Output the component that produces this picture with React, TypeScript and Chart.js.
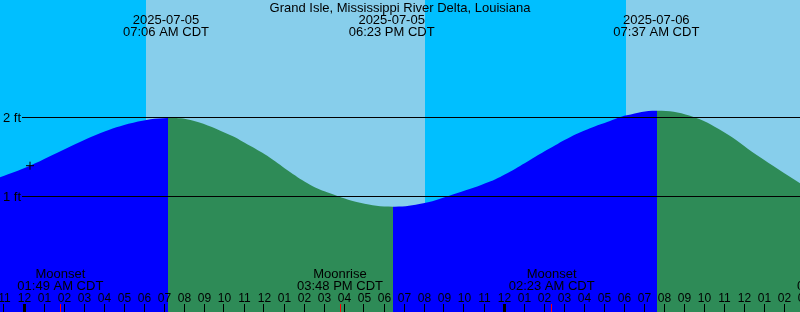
import React, { useEffect, useRef } from "react";
import { Chart, registerables } from "chart.js";

Chart.register(...registerables);

// ---- data (hours are measured from midnight 2025-07-05 CDT) ----
const TITLE = "Grand Isle, Mississippi River Delta, Louisiana";

const tideHours = [
  -1.2, 0.3, 2.135, 3.8, 5.465, 7.2, 8.465, 10.3, 11.3, 12.3, 13.3, 14.3, 15.3,
  16.8, 18.45, 19.965, 21.635, 23.3, 24.3, 25.3, 26.3, 27.3, 28.3, 29.3,
  30.135, 31.65, 33.3, 34.965, 36.635, 38.8,
];
const tideFeet = [
  1.243, 1.39, 1.609, 1.798, 1.932, 1.99, 1.957, 1.777, 1.64, 1.49, 1.31, 1.15,
  1.042, 0.923, 0.873, 0.915, 1.042, 1.19, 1.314, 1.462, 1.609, 1.748, 1.861,
  1.953, 2.025, 2.083, 2.02, 1.818, 1.525, 1.168,
];

const extremeHours = [7.1, 18.383, 31.617];
const extremeDates = ["2025-07-05", "2025-07-05", "2025-07-06"];
const extremeTimes = ["07:06 AM CDT", "06:23 PM CDT", "07:37 AM CDT"];

const moonHours = [1.817, 15.8, 26.383, 40.8];
const moonNames = ["Moonset", "Moonrise", "Moonset", "Moonrise"];
const moonTimes = ["01:49 AM CDT", "03:48 PM CDT", "02:23 AM CDT", "04:48 PM CDT"];

const sunriseHours = [6.1, 30.1];
const sunsetHours = [20.05, 44.05];

const markHour = [0.3];
const markFeet = [1.39];

const gridFeet = [1, 2];
const gridLabels = ["1 ft", "2 ft"];

const firstTickHour = -1;
const hourLabels = [
  "11", "12", "01", "02", "03", "04", "05", "06", "07", "08", "09", "10", "11",
  "12", "01", "02", "03", "04", "05", "06", "07", "08", "09", "10", "11",
  "12", "01", "02", "03", "04", "05", "06", "07", "08", "09", "10", "11",
  "12", "01", "02", "03",
];

const X_MIN = -1.2;
const X_MAX = 38.8;
const Y_MIN = -0.455;
const Y_MAX = 3.479;

const NIGHT = "#00BFFF";
const DAY = "#87CEEB";
const RISING = "#0000FF";
const FALLING = "#2E8B57";
const FONT = '13px "Liberation Sans", Arial, sans-serif';
const HOUR_FONT = '12px "Liberation Sans", Arial, sans-serif';

const backgroundPlugin = {
  id: "dayNight",
  beforeDatasetsDraw(chart: any) {
    const { ctx, chartArea } = chart;
    const xs = chart.scales.x;
    ctx.save();
    ctx.fillStyle = NIGHT;
    ctx.fillRect(chartArea.left, chartArea.top, chartArea.right - chartArea.left, chartArea.bottom - chartArea.top);
    ctx.fillStyle = DAY;
    for (let i = 0; i < sunriseHours.length; i++) {
      const a = Math.max(chartArea.left, Math.round(xs.getPixelForValue(sunriseHours[i])));
      const b = Math.min(chartArea.right, Math.round(xs.getPixelForValue(sunsetHours[i])));
      if (b > a) ctx.fillRect(a, chartArea.top, b - a, chartArea.bottom - chartArea.top);
    }
    ctx.restore();
  },
};

const overlayPlugin = {
  id: "overlay",
  afterDatasetsDraw(chart: any) {
    const { ctx, chartArea } = chart;
    const xs = chart.scales.x;
    const ys = chart.scales.y;
    ctx.save();
    ctx.font = FONT;
    ctx.fillStyle = "#000";
    ctx.strokeStyle = "#000";
    ctx.lineWidth = 1;

    // horizontal reference lines
    gridFeet.forEach((v, i) => {
      const y = Math.floor(ys.getPixelForValue(v)) + 0.5;
      ctx.beginPath();
      ctx.moveTo(22, y);
      ctx.lineTo(chartArea.right, y);
      ctx.stroke();
      ctx.textAlign = "left";
      ctx.textBaseline = "alphabetic";
      ctx.fillText(gridLabels[i], 3, y + 4);
    });

    // title
    ctx.textAlign = "center";
    ctx.fillText(TITLE, 400, 12);

    // tide extremes
    extremeHours.forEach((h, i) => {
      const x = xs.getPixelForValue(h);
      ctx.fillText(extremeDates[i], x, 24);
      ctx.fillText(extremeTimes[i], x, 36);
    });

    // moon events
    moonHours.forEach((h, i) => {
      const x = xs.getPixelForValue(h);
      ctx.fillText(moonNames[i], x, 278);
      ctx.fillText(moonTimes[i], x, 290);
    });

    // hour labels and ticks
    ctx.font = HOUR_FONT;
    hourLabels.forEach((lab, i) => {
      const h = firstTickHour + i;
      const x = xs.getPixelForValue(h);
      ctx.fillText(lab, x + 0.5, 302);
      const px = Math.floor(x);
      const isMidnight = ((h % 24) + 24) % 24 === 0;
      if (isMidnight) ctx.fillRect(px - 1, 304, 3, 8);
      else ctx.fillRect(px, 304, 1, 8);
    });

    // moon ticks
    ctx.fillStyle = "#FF0000";
    moonHours.forEach((h) => {
      const px = Math.floor(xs.getPixelForValue(h));
      ctx.fillRect(px, 304, 1, 8);
    });
    ctx.restore();
  },
};

export default function App() {
  const ref = useRef<HTMLCanvasElement | null>(null);
  useEffect(() => {
    if (!ref.current) return;
    const chart = new Chart(ref.current, {
      type: "line",
      data: {
        datasets: [
          {
            data: markHour.map((h, i) => ({ x: h, y: markFeet[i] })),
            showLine: false,
            pointStyle: "cross",
            pointRadius: 4,
            pointBorderColor: "#000",
            pointBorderWidth: 1,
            fill: false,
            order: 0,
          },
          {
            data: tideHours.map((h, i) => ({ x: h, y: tideFeet[i] })),
            borderWidth: 0,
            borderColor: "rgba(0,0,0,0)",
            pointRadius: 0,
            fill: "start",
            backgroundColor: RISING,
            tension: 0.4,
            segment: {
              backgroundColor: (c: any) => (c.p1.parsed.y >= c.p0.parsed.y ? RISING : FALLING),
            },
            order: 1,
          },
        ],
      },
      options: {
        animation: false,
        responsive: false,
        events: [],
        layout: { padding: 0, autoPadding: false },
        plugins: { legend: { display: false }, tooltip: { enabled: false } },
        scales: {
          x: { type: "linear", min: X_MIN, max: X_MAX, display: false },
          y: { type: "linear", min: Y_MIN, max: Y_MAX, display: false },
        },
      },
      plugins: [backgroundPlugin, overlayPlugin],
    });
    return () => chart.destroy();
  }, []);
  return (
    <div style={{ position: "absolute", left: 0, top: 0, width: 800, height: 312 }}>
      <canvas ref={ref} width={800} height={312} style={{ display: "block" }} />
    </div>
  );
}
